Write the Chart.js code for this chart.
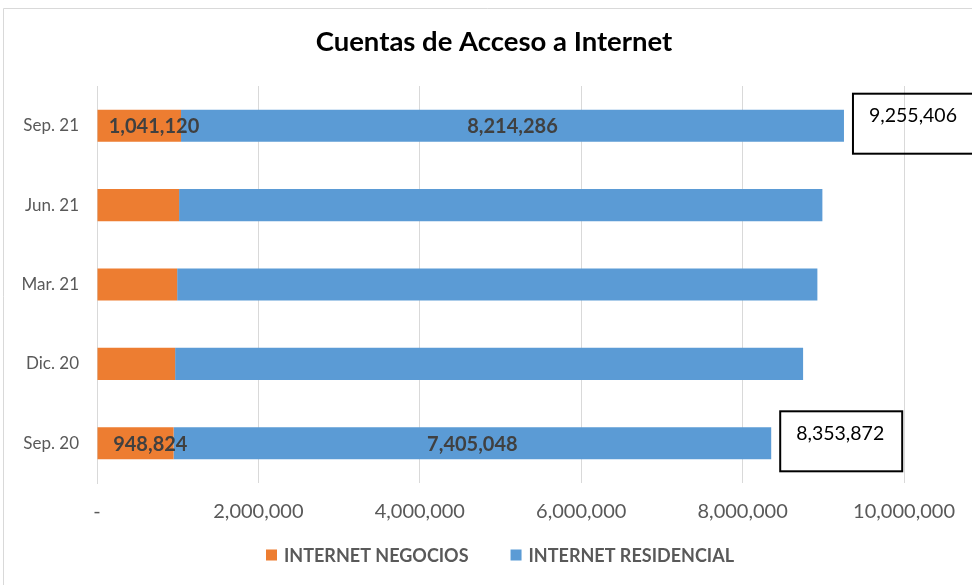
<!DOCTYPE html>
<html>
<head>
<meta charset="utf-8">
<script src="https://cdn.jsdelivr.net/npm/chart.js@4"></script>
<style>
  html, body { margin: 0; padding: 0; background: #fff; }
  #wrap { width: 972px; height: 585px; position: relative; }
</style>
</head>
<body>
<div id="wrap"><canvas id="accesoChart" width="972" height="585"></canvas></div>
<script>
const periodos = ['Sep. 21', 'Jun. 21', 'Mar. 21', 'Dic. 20', 'Sep. 20'];
const negocios = [1041120, 1017000, 993000, 968000, 948824];
const residencial = [8214286, 7971000, 7933000, 7781000, 7405048];
const conEtiqueta = ['Sep. 21', 'Sep. 20'];

const FONT = 'Lato, "Open Sans", sans-serif';
const fmt = v => v.toLocaleString('en-US');

// frame of the chart, top and left edge only
const framePlugin = {
    id: 'frame',
    beforeDraw(chart) {
        const ctx = chart.ctx;
        ctx.save();
        ctx.fillStyle = '#fff';
        ctx.fillRect(0, 0, chart.width, chart.height);
        ctx.strokeStyle = '#d9d9d9';
        ctx.lineWidth = 1;
        ctx.beginPath();
        ctx.moveTo(3.5, chart.height);
        ctx.lineTo(3.5, 8.5);
        ctx.lineTo(chart.width, 8.5);
        ctx.stroke();
        ctx.restore();
    }
};

// value labels inside the segments and boxed totals
const labelsPlugin = {
    id: 'valueLabels',
    afterDatasetsDraw(chart) {
        const ctx = chart.ctx;
        const x = chart.scales.x, y = chart.scales.y;
        ctx.save();
        periodos.forEach((p, i) => {
            if (!conEtiqueta.includes(p)) return;
            const yc = y.getPixelForValue(i);
            const x0 = x.getPixelForValue(0);
            const x1 = x.getPixelForValue(negocios[i]);
            const total = negocios[i] + residencial[i];
            const x2 = x.getPixelForValue(total);

            ctx.font = 'bold 20px ' + FONT;
            ctx.fillStyle = '#404040';
            ctx.textAlign = 'center';
            ctx.textBaseline = 'middle';
            ctx.fillText(fmt(negocios[i]), (x0 + x1) / 2 + 15, yc + 1);
            ctx.fillText(fmt(residencial[i]), (x1 + x2) / 2, yc + 1);

            const bx = x2 + 9, bw = 122, bh = 60, by = yc - bh / 2 - 2;
            ctx.strokeStyle = '#000';
            ctx.lineWidth = 2;
            ctx.strokeRect(bx, by, bw, bh);
            ctx.font = '19.5px ' + FONT;
            ctx.fillStyle = '#000';
            ctx.textAlign = 'left';
            ctx.fillText(fmt(total), bx + 16, by + 22);
        });
        ctx.restore();
    }
};

// legend drawn by hand so the item gap can differ from the vertical room
const legendPlugin = {
    id: 'bottomLegend',
    afterDraw(chart) {
        const ctx = chart.ctx;
        const sets = chart.data.datasets;
        const box = 11, gapText = 7, gapItem = 42, yc = 555;
        ctx.save();
        ctx.font = 'bold 18px ' + FONT;
        ctx.textBaseline = 'middle';
        const widths = sets.map(d => box + gapText + ctx.measureText(d.label).width);
        const total = widths.reduce((a, b) => a + b, 0) + gapItem * (sets.length - 1);
        let xPos = (16 + chart.width) / 2 + 6 - total / 2;
        sets.forEach((d, k) => {
            ctx.fillStyle = d.backgroundColor;
            ctx.fillRect(xPos, yc - box / 2, box, box);
            ctx.fillStyle = '#595959';
            ctx.textAlign = 'left';
            ctx.fillText(d.label, xPos + box + gapText, yc + 1);
            xPos += widths[k] + gapItem;
        });
        ctx.restore();
    }
};

new Chart(document.getElementById('accesoChart').getContext('2d'), {
    type: 'bar',
    data: {
        labels: periodos,
        datasets: [
            {
                label: 'INTERNET NEGOCIOS',
                data: negocios,
                backgroundColor: '#ED7D31'
            },
            {
                label: 'INTERNET RESIDENCIAL',
                data: residencial,
                backgroundColor: '#5B9BD5'
            }
        ]
    },
    options: {
        indexAxis: 'y',
        responsive: false,
        animation: false,
        events: [],
        layout: { padding: { left: 16, right: 0, top: 18, bottom: 47 } },
        datasets: {
            bar: { categoryPercentage: 0.8, barPercentage: 0.506 }
        },
        scales: {
            x: {
                stacked: true,
                min: 0,
                max: 10000000,
                ticks: {
                    stepSize: 2000000,
                    color: '#595959',
                    font: { family: FONT, size: 20 },
                    padding: 17,
                    callback: v => v === 0 ? '-' : fmt(v)
                },
                grid: { color: '#d9d9d9', drawTicks: false },
                border: { display: false },
                afterFit: s => { s.height = 55; }
            },
            y: {
                stacked: true,
                ticks: {
                    color: '#595959',
                    font: { family: FONT, size: 17 },
                    padding: 10
                },
                grid: { display: false },
                border: { display: true, color: '#d9d9d9' },
                afterFit: s => { s.width = 81; }
            },
            // empty axis on the right that keeps room for the total boxes
            yRight: {
                type: 'category',
                position: 'right',
                labels: periodos,
                ticks: { display: false },
                grid: { display: false },
                border: { display: false },
                afterFit: s => { s.width = 65; }
            }
        },
        plugins: {
            title: {
                display: true,
                text: 'Cuentas de Acceso a Internet',
                color: '#000',
                font: { family: FONT, size: 27.5, weight: 'bold' },
                padding: { top: 8, bottom: 27 }
            },
            legend: { display: false },
            tooltip: { enabled: false }
        }
    },
    plugins: [framePlugin, labelsPlugin, legendPlugin]
});
</script>
</body>
</html>
